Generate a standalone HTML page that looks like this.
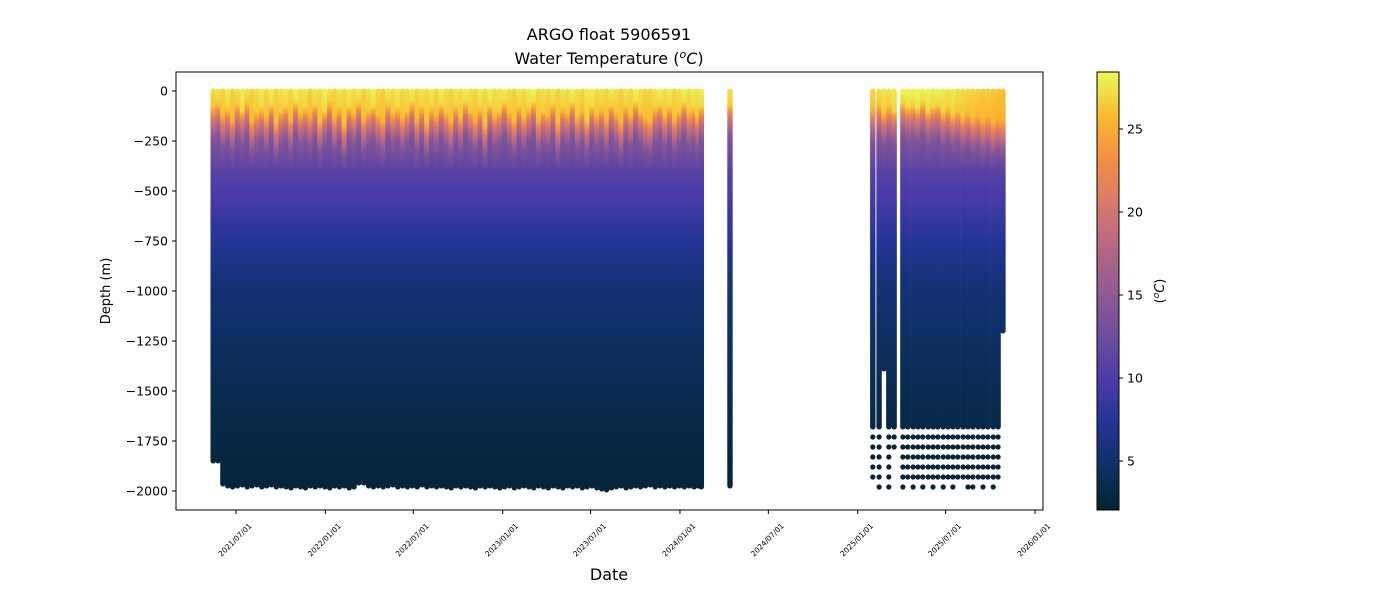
<!DOCTYPE html>
<html><head><meta charset="utf-8">
<style>
body{margin:0;background:#fff;}
svg{display:block;font-family:"DejaVu Sans","Liberation Sans",sans-serif;}
</style></head>
<body>
<svg id="chart" width="1400" height="600" viewBox="0 0 1400 600" xmlns="http://www.w3.org/2000/svg">
<rect width="1400" height="600" fill="#fff"/>
<defs id="defs"></defs>
<text x="609" y="40" font-size="16" text-anchor="middle">ARGO float 5906591</text>
<text x="609" y="64" font-size="16" text-anchor="middle">Water Temperature (<tspan font-style="italic" font-size="11" dy="-6">o</tspan><tspan font-style="italic" dy="6">C</tspan>)</text>
<g id="plot"></g>
<rect x="176" y="72" width="867" height="438" fill="none" stroke="#000" stroke-width="1"/>
<g id="yaxis"></g>
<g id="xaxis"></g>
<text transform="translate(110,291) rotate(-90)" font-size="13" text-anchor="middle">Depth (m)</text>
<text x="609" y="580" font-size="16" text-anchor="middle">Date</text>
<g id="cbar"></g>
<text transform="translate(1164,291) rotate(-90)" font-size="13" text-anchor="middle">(<tspan font-style="italic" font-size="9" dy="-5">o</tspan><tspan font-style="italic" dy="5">C</tspan>)</text>
</svg>
<script>
// ---- data (days since 2021-01-01) ----
const daysA = [134,144,154,164,174,184,194,204,214,224,
234,244,254,264,274,284,294,304,314,324,
334,344,354,364,374,384,394,404,414,424,
434,444,454,464,474,484,494,504,514,524,
534,544,554,564,574,584,594,604,614,624,
634,644,654,664,674,684,694,704,714,724,
734,744,754,764,774,784,794,804,814,824,
834,844,854,864,874,884,894,904,914,924,
934,944,954,964,974,984,994,1004,1014,1024,
1034,1044,1054,1064,1074,1084,1094,1104,1114,1124,
1132,1139];
const maxDepthA = [1850,1850,1965,1975,1980,1975,1970,1980,1975,1970,
1980,1975,1970,1980,1975,1980,1985,1975,1980,1985,
1975,1980,1975,1980,1985,1975,1980,1975,1985,1980,
1960,1960,1975,1980,1975,1980,1975,1970,1980,1975,
1980,1975,1980,1970,1980,1975,1980,1975,1980,1985,
1975,1980,1975,1980,1985,1975,1980,1975,1980,1985,
1980,1975,1985,1980,1975,1980,1985,1975,1980,1985,
1975,1980,1985,1975,1980,1975,1985,1980,1975,1985,
1990,1995,1985,1980,1975,1985,1980,1975,1980,1975,
1970,1980,1975,1980,1975,1980,1975,1980,1975,1980,
1975,1980];
const mldA = [80,60,120,90,140,70,100,60,150,110,
90,130,70,160,100,80,140,60,110,90,
120,70,150,100,60,130,90,170,80,110,
60,140,100,80,120,150,70,110,90,130,
100,60,140,80,160,90,120,70,110,150,
80,130,60,100,140,90,170,70,120,100,
60,110,150,80,130,90,60,140,100,120,
70,160,90,110,60,130,100,150,80,120,
90,140,70,110,160,80,120,60,100,130,
150,90,70,120,80,140,100,60,110,90,
130,80];
const sstA = [27.2,27.6,27.0,27.8,26.9,27.4,28.0,27.5,26.8,27.3,
27.9,27.1,28.1,26.9,27.5,27.8,27.0,28.2,27.4,27.7,
26.8,27.9,27.2,28.1,27.5,26.9,27.6,27.1,28.0,27.3,
27.8,26.9,27.4,28.2,27.0,26.8,27.7,27.3,27.9,27.1,
27.5,28.0,26.9,27.6,27.2,27.8,27.0,28.1,27.4,26.9,
27.7,27.2,28.0,27.5,26.9,27.8,27.1,28.2,27.4,27.6,
28.0,27.3,26.9,27.7,27.2,27.9,28.2,27.1,27.5,27.0,
27.8,26.9,27.6,27.3,28.1,27.4,27.0,27.7,28.0,27.2,
27.5,27.0,27.9,27.3,26.8,27.6,27.2,28.1,27.5,27.0,
26.9,27.6,28.0,27.3,27.8,27.1,27.5,28.2,27.4,27.9,
27.5,28.0];
const daysB = [1198];
const maxDepthB = [1975];
const mldB = [70];
const sstB = [27.4];
const daysC = [1492,1505,1515,1525,1536,
1554,1564,1575,1585,1595,1606,1616,1626,1637,1647,1657,1667,1678,1688,1698,1709,1719,1729,1740,1750,1760];
const maxDepthC = [1680,1680,1390,1680,1680,
1680,1680,1680,1680,1680,1680,1680,1680,1680,1680,1680,1680,1680,1680,1680,1680,1680,1680,1680,1680,1200];
const deepDotsC = [5,6,0,6,2,
6,5,6,5,6,5,6,5,6,5,6,5,5,6,6,5,6,5,6,5,0];
const mldC = [90,70,110,80,100,
60,80,70,90,60,100,80,70,110,90,120,100,130,110,140,120,150,130,160,140,150];
const sstC = [27.0,27.3,27.6,27.4,27.8,
28.0,28.2,28.1,28.3,28.0,28.2,27.9,28.1,27.8,27.6,27.8,27.4,27.2,27.0,26.9,26.7,26.5,26.6,26.3,26.2,26.1];

const yTicks = [0,-250,-500,-750,-1000,-1250,-1500,-1750,-2000];
const xTickDays = [181,365,546,730,911,1095,1277,1461,1642,1826];
const xTickLabels = ["2021/07/01","2022/01/01","2022/07/01","2023/01/01","2023/07/01","2024/01/01","2024/07/01","2025/01/01","2025/07/01","2026/01/01"];
const cbarTicks = [5,10,15,20,25];

const NS="http://www.w3.org/2000/svg";
const xS = d => 148.1 + d*0.48571;
const yS = v => 91 - v*0.2;
const TMIN=2.05, TMAX=28.43;
const stops=[[4,35,51],[13,48,100],[34,52,148],[75,59,168],[111,77,157],[146,91,146],[182,104,132],[217,120,106],[243,143,68],[251,186,48],[232,250,91]];
function cmap(t){if(!isFinite(t))t=TMIN;let f=Math.max(0,Math.min(1,(t-TMIN)/(TMAX-TMIN)))*(stops.length-1);const i=Math.min(stops.length-2,Math.floor(f));const r=f-i;const c=stops[i].map((v,k)=>Math.round(v+(stops[i+1][k]-v)*r));return `rgb(${c[0]},${c[1]},${c[2]})`;}
function tempAt(z,mld,sst){
  const d=[0,mld,mld+60,mld+160,400,600,800,1000,1300,1600,2000];
  const t=[sst,sst-1,20.5,14,11,9,7,5.6,4.3,3.3,2.4];
  for(let i=0;i<d.length-1;i++){ if(z<=d[i+1]){const r=(z-d[i])/(d[i+1]-d[i]);return t[i]+(t[i+1]-t[i])*r;} }
  return t[t.length-1];
}
const plot=document.getElementById('plot'), defs=document.getElementById('defs');
let gidN=0;
function drawProfile(day,md,mld,sst,dots){
  const gid='g'+(gidN++);
  const g=document.createElementNS(NS,'linearGradient');
  g.setAttribute('id',gid);g.setAttribute('gradientUnits','userSpaceOnUse');
  g.setAttribute('x1',0);g.setAttribute('x2',0);g.setAttribute('y1',yS(0));g.setAttribute('y2',yS(-2000));
  for(let z=0;z<=2000;z+=25){const s=document.createElementNS(NS,'stop');s.setAttribute('offset',z/2000);s.setAttribute('stop-color',cmap(tempAt(z,mld,sst)));g.appendChild(s);}
  defs.appendChild(g);
  const x=xS(day);
  const r=document.createElementNS(NS,'rect');
  
  
  r.setAttribute('x',x-2.7);r.setAttribute('y',yS(0)-2.5);r.setAttribute('width',5.4);r.setAttribute('height',yS(-md)-yS(0)+5);
  r.setAttribute('rx',2.7);r.setAttribute('fill',`url(#${gid})`);
  plot.appendChild(r);
  for(let k=0;k<dots;k++){
    const c=document.createElementNS(NS,'circle');
    
    
    c.setAttribute('cx',x);c.setAttribute('cy',yS(-(1730+50*k)));c.setAttribute('r',2.6);c.setAttribute('fill','#082538');
    plot.appendChild(c);
  }
}
daysA.forEach((d,i)=>drawProfile(d,maxDepthA[i]??1975,mldA[i]??100,sstA[i]??27.5,0));
daysB.forEach((d,i)=>drawProfile(d,maxDepthB[i]??1975,mldB[i]??100,sstB[i]??27.5,0));
daysC.forEach((d,i)=>drawProfile(d,maxDepthC[i]??1680,mldC[i]??100,sstC[i]??27.5,deepDotsC[i]??0));

const ya=document.getElementById('yaxis');
yTicks.forEach(v=>{
  const l=document.createElementNS(NS,'line');
  
  
  l.setAttribute('x1',172);l.setAttribute('x2',176);l.setAttribute('y1',yS(v));l.setAttribute('y2',yS(v));l.setAttribute('stroke','#000');
  ya.appendChild(l);
  const t=document.createElementNS(NS,'text');
  
  
  t.setAttribute('x',168);t.setAttribute('y',yS(v)+4.5);t.setAttribute('text-anchor','end');t.setAttribute('font-size','12.5');
  t.textContent=String(v).replace('-','\u2212');ya.appendChild(t);
});
const xa=document.getElementById('xaxis');
xTickDays.forEach((d,i)=>{
  const x=xS(d);
  const l=document.createElementNS(NS,'line');
  
  
  l.setAttribute('x1',x);l.setAttribute('x2',x);l.setAttribute('y1',510);l.setAttribute('y2',514);l.setAttribute('stroke','#000');
  xa.appendChild(l);
  const t=document.createElementNS(NS,'text');
  
  
  t.setAttribute('transform',`translate(${x-1},${540}) rotate(-45)`);t.setAttribute('text-anchor','middle');t.setAttribute('dominant-baseline','central');t.setAttribute('font-size','7.5');
  t.textContent=xTickLabels[i];xa.appendChild(t);
});
const cb=document.getElementById('cbar');
const cg=document.createElementNS(NS,'linearGradient');
cg.setAttribute('id','cbg');cg.setAttribute('x1',0);cg.setAttribute('x2',0);cg.setAttribute('y1',1);cg.setAttribute('y2',0);
for(let k=0;k<=40;k++){const s=document.createElementNS(NS,'stop');s.setAttribute('offset',k/40);s.setAttribute('stop-color',cmap(TMIN+(TMAX-TMIN)*k/40));cg.appendChild(s);}
defs.appendChild(cg);
const cr=document.createElementNS(NS,'rect');


cr.setAttribute('x',1097);cr.setAttribute('y',72);cr.setAttribute('width',22);cr.setAttribute('height',438);cr.setAttribute('fill','url(#cbg)');cr.setAttribute('stroke','#000');cr.setAttribute('stroke-width','1');
cb.appendChild(cr);
const cy=t=>510-(t-TMIN)/(TMAX-TMIN)*438;
cbarTicks.forEach(v=>{
  const l=document.createElementNS(NS,'line');
  
  
  l.setAttribute('x1',1119);l.setAttribute('x2',1123);l.setAttribute('y1',cy(v));l.setAttribute('y2',cy(v));l.setAttribute('stroke','#000');
  cb.appendChild(l);
  const t=document.createElementNS(NS,'text');
  
  
  t.setAttribute('x',1127);t.setAttribute('y',cy(v)+4.5);t.setAttribute('font-size','12.5');
  t.textContent=v;cb.appendChild(t);
});
</script>
</body></html>
